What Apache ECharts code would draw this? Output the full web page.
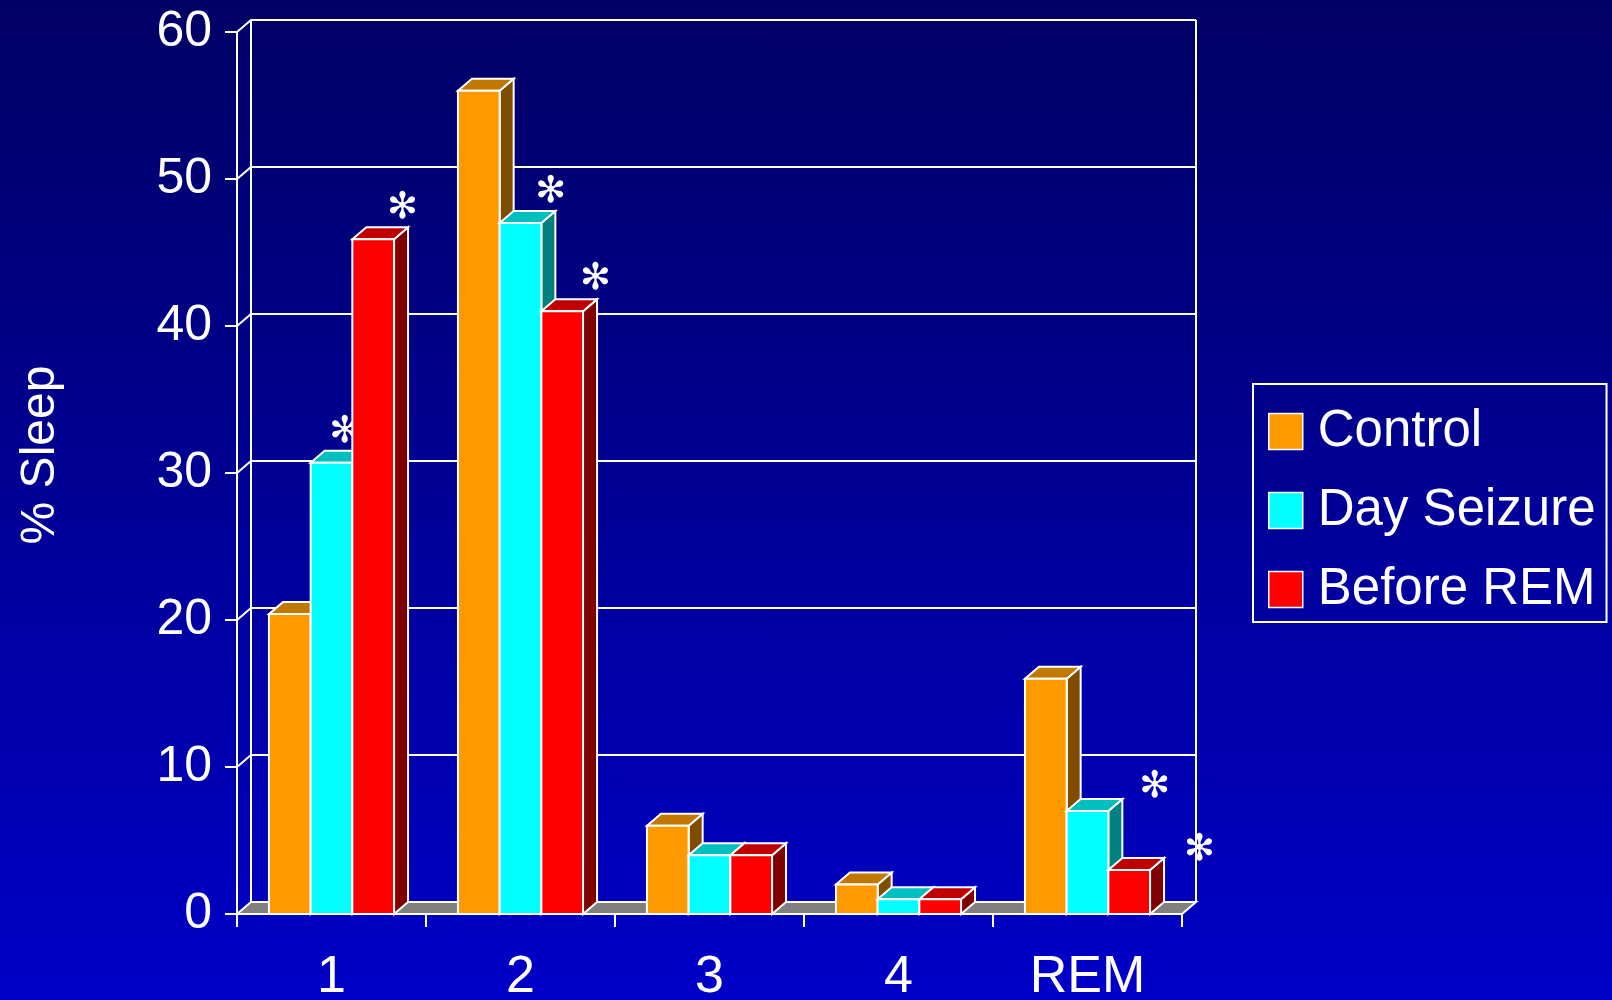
<!DOCTYPE html>
<html>
<head>
<meta charset="utf-8">
<title>% Sleep by stage</title>
<script src="https://cdn.jsdelivr.net/npm/echarts@6/dist/echarts.min.js"></script>
<style>
  html, body { margin: 0; padding: 0; }
  body { width: 1612px; height: 1000px; background: linear-gradient(to bottom, #000064 0%, #0000c8 100%); }
  #chart { width: 1612px; height: 1000px; }
</style>
</head>
<body>
<div id="chart"></div>
<script>
// Sleep stages and the share of sleep spent in each (%)
const categories = ['1', '2', '3', '4', 'REM'];
const control    = [20.4, 56, 6, 2, 16];
const daySeizure = [30.7, 47, 4, 1, 7];
const beforeRem  = [45.9, 41, 4, 1, 3];
const yTicks = [0, 10, 20, 30, 40, 50, 60];

// significance markers (*) per stage
const daySeizureSig = [true, true, false, false, true];
const beforeRemSig  = [true, true, false, false, true];

// ---- drawing constants ----
const FONT = 'Liberation Sans';
const DX = 14, DY = 12;          // depth of the pseudo-3D extrusion
const BAR_RATIO = 0.2206;        // bar width as share of a category band
const LINE = 2;

// shade sets: front, top, side
const PALETTE = [
  { front: '#ff9900', top: '#c07800', side: '#7f4c00' },
  { front: '#00ffff', top: '#00bfbf', side: '#008080' },
  { front: '#ff0000', top: '#c00000', side: '#800000' }
];

// where each * sits relative to the top centre of its bar
const STAR_SHIFT = {
  1: { 0: [13, -30], 1: [30, -31], 4: [67, -24] },
  2: { 0: [29, -31], 1: [33, -32], 4: [70, -20] }
};

function wallItem(params, api) {
  const cs = params.coordSys;
  const v = api.value(1);
  const y = api.coord([0, v])[1];
  const left = cs.x, right = cs.x + cs.width;
  const stroke = { stroke: '#ffffff', lineWidth: LINE };
  const children = [];
  if (v === yTicks[0]) {
    children.push({
      type: 'polygon',
      shape: { points: [[left, y], [right, y], [right + DX, y - DY], [left + DX, y - DY]] },
      style: Object.assign({ fill: '#808080' }, stroke)
    });
  } else {
    children.push({
      type: 'polyline',
      shape: { points: [[left, y], [left + DX, y - DY], [right + DX, y - DY]] },
      style: Object.assign({ fill: null }, stroke)
    });
  }
  if (v === yTicks[yTicks.length - 1]) {
    const yb = api.coord([0, yTicks[0]])[1];
    children.push({
      type: 'line',
      shape: { x1: left + DX, y1: y - DY, x2: left + DX, y2: yb - DY },
      style: stroke
    });
    children.push({
      type: 'line',
      shape: { x1: right + DX, y1: y - DY, x2: right + DX, y2: yb - DY },
      style: stroke
    });
  }
  return { type: 'group', children: children };
}

function barRenderer(si, sig) {
  const pal = PALETTE[si];
  return function (params, api) {
    const cat = api.value(0);
    const val = api.value(1);
    const band = api.size([1, 0])[0];
    const w = band * BAR_RATIO;
    const base = api.coord([cat, 0]);
    const top = api.coord([cat, val]);
    const x0 = base[0] - 1.5 * w + si * w;
    const x1 = x0 + w;
    const y0 = base[1], y1 = top[1];
    const st = { stroke: '#ffffff', lineWidth: LINE, lineJoin: 'miter' };
    const children = [
      {
        type: 'polygon',
        shape: { points: [[x1, y1], [x1 + DX, y1 - DY], [x1 + DX, y0 - DY], [x1, y0]] },
        style: Object.assign({ fill: pal.side }, st)
      },
      {
        type: 'polygon',
        shape: { points: [[x0, y1], [x0 + DX, y1 - DY], [x1 + DX, y1 - DY], [x1, y1]] },
        style: Object.assign({ fill: pal.top }, st)
      },
      {
        type: 'rect',
        shape: { x: x0, y: y1, width: w, height: y0 - y1 },
        style: Object.assign({ fill: pal.front }, st)
      }
    ];
    if (sig && sig[cat]) {
      const sh = STAR_SHIFT[si][cat];
      children.push({
        type: 'text',
        x: (x0 + x1) / 2 + sh[0],
        y: y1 + sh[1],
        style: {
          text: '\u273B',
          fill: '#ffffff',
          font: '37px "DejaVu Sans"',
          align: 'center',
          verticalAlign: 'middle'
        }
      });
    }
    return { type: 'group', children: children };
  };
}

function pairs(values) {
  return values.map(function (v, i) { return [i, v]; });
}

const chart = echarts.init(document.getElementById('chart'), null, { renderer: 'canvas' });

chart.setOption({
  backgroundColor: 'transparent',
  animation: false,
  textStyle: { fontFamily: FONT },
  grid: { left: 237, right: 430, top: 32, bottom: 86, containLabel: false, outerBoundsMode: 'none' },
  legend: {
    orient: 'vertical',
    left: 1253,
    top: 384,
    padding: [17, 11, 2, 15],
    itemGap: 18,
    itemWidth: 34,
    itemHeight: 36,
    icon: 'rect',
    borderColor: '#ffffff',
    borderWidth: 2,
    itemStyle: { borderColor: '#ffffff', borderWidth: 1.5 },
    textStyle: { color: '#ffffff', fontSize: 51, lineHeight: 57, fontFamily: FONT, padding: [4, 0, 0, 10] },
    data: ['Control', 'Day Seizure', 'Before REM']
  },
  xAxis: {
    type: 'category',
    data: categories,
    boundaryGap: true,
    axisLine: { lineStyle: { color: '#ffffff', width: LINE } },
    axisTick: { show: true, length: 13, lineStyle: { color: '#ffffff', width: LINE } },
    axisLabel: { color: '#ffffff', fontSize: 52, margin: 38, fontFamily: FONT },
    splitLine: { show: false }
  },
  yAxis: {
    type: 'value',
    min: 0,
    max: 60,
    interval: 10,
    name: '% Sleep',
    nameLocation: 'middle',
    nameRotate: 90,
    nameGap: 172,
    nameTextStyle: { color: '#ffffff', fontSize: 48, fontFamily: FONT, padding: [0, 0, 0, 36] },
    axisLine: { show: true, lineStyle: { color: '#ffffff', width: LINE } },
    axisTick: { show: true, length: 12, lineStyle: { color: '#ffffff', width: LINE } },
    axisLabel: { color: '#ffffff', fontSize: 50, margin: 25, fontFamily: FONT },
    splitLine: { show: false }
  },
  series: [
    {
      type: 'custom',
      name: 'wall',
      z: 1,
      silent: true,
      renderItem: wallItem,
      encode: { x: 0, y: 1 },
      data: yTicks.map(function (v) { return [0, v]; })
    },
    {
      type: 'custom',
      name: 'Control',
      z: 2,
      renderItem: barRenderer(0, null),
      itemStyle: { color: PALETTE[0].front },
      encode: { x: 0, y: 1 },
      data: pairs(control)
    },
    {
      type: 'custom',
      name: 'Day Seizure',
      z: 3,
      renderItem: barRenderer(1, daySeizureSig),
      itemStyle: { color: PALETTE[1].front },
      encode: { x: 0, y: 1 },
      data: pairs(daySeizure)
    },
    {
      type: 'custom',
      name: 'Before REM',
      z: 4,
      renderItem: barRenderer(2, beforeRemSig),
      itemStyle: { color: PALETTE[2].front },
      encode: { x: 0, y: 1 },
      data: pairs(beforeRem)
    }
  ]
});
</script>
</body>
</html>
